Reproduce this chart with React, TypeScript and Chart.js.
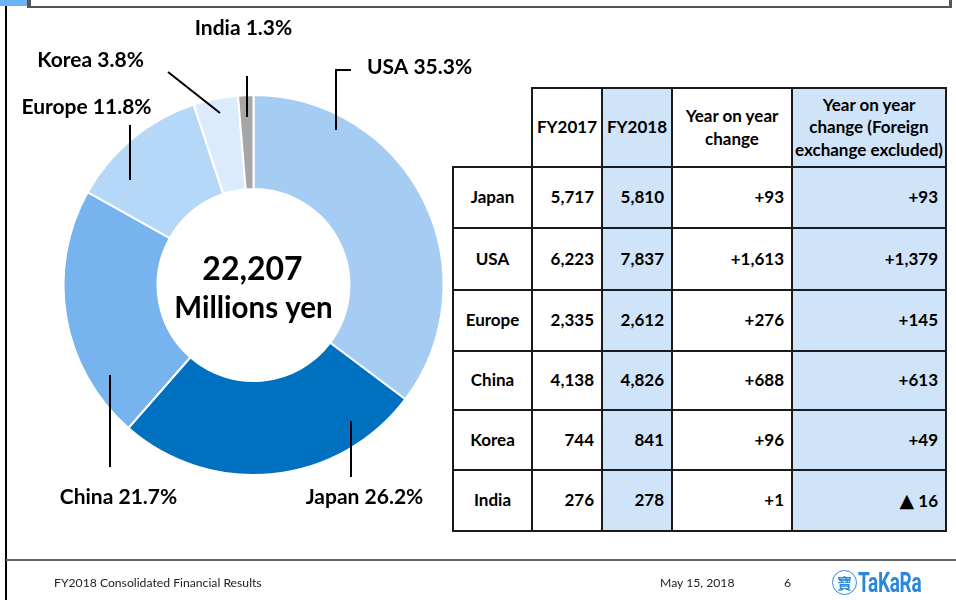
import React, { useEffect, useRef } from 'react';
import { Chart, registerables } from 'chart.js';

Chart.register(...registerables);

// ---------- data ----------
const sliceNames = ['USA', 'Japan', 'China', 'Europe', 'Korea', 'India'];
const sliceShares = [35.3, 26.2, 21.7, 11.8, 3.8, 1.3];
const sliceColors = ['#A5CDF3', '#0070C0', '#77B3EE', '#B6D8F8', '#DBEBFB', '#A6A6A6'];
const totalLabel = '22,207';
const totalUnit = 'Millions yen';

const tableHeaders = ['', 'FY2017', 'FY2018', 'Year on year\nchange', 'Year on year\nchange (Foreign\nexchange excluded)'];
const tableRegions = ['Japan', 'USA', 'Europe', 'China', 'Korea', 'India'];
const fy2017 = ['5,717', '6,223', '2,335', '4,138', '744', '276'];
const fy2018 = ['5,810', '7,837', '2,612', '4,826', '841', '278'];
const yoyChange = ['+93', '+1,613', '+276', '+688', '+96', '+1'];
const yoyChangeFx = ['+93', '+1,379', '+145', '+613', '+49', '▲ 16'];

const footerTitle = 'FY2018 Consolidated Financial Results';
const footerDate = 'May 15, 2018';
const footerPage = '6';

// ---------- layout (offsets relative to doughnut centre) ----------
const labelLayout = [
  { dx: 166, dy: -218, line: [[82.5, -155], [82.5, -215], [97.5, -215]] }, // USA
  { dx: 111, dy: 212, line: [[97.5, 136], [97.5, 192]] }, // Japan
  { dx: -135, dy: 212, line: [[-143.5, 90], [-143.5, 182]] }, // China
  { dx: -167, dy: -178, line: [[-123.5, -160], [-123.5, -105]] }, // Europe
  { dx: -163, dy: -225, line: [[-85.5, -213], [-33.5, -172]] }, // Korea
  { dx: -10, dy: -257, line: [[-6.5, -209], [-6.5, -168]] }, // India
];

const colEdges = [453, 532, 602, 672, 792, 946];
const rowEdges = [88, 167, 228, 290, 351, 410, 470, 531];
const shadedCols = [2, 4];
const shade = '#CFE4F8';
const FONT = 'Lato, "Open Sans", sans-serif';

const labelPlugin = {
  id: 'sliceLabels',
  afterDraw(chart: any) {
    const meta = chart.getDatasetMeta(0);
    const a0 = meta.data[0];
    if (!a0) return;
    const cx = a0.x;
    const cy = a0.y;
    const ctx = chart.ctx;
    ctx.save();
    ctx.fillStyle = '#000';
    ctx.textAlign = 'center';
    ctx.textBaseline = 'alphabetic';
    ctx.font = `bold 32px ${FONT}`;
    ctx.fillText(totalLabel, cx - 1, cy - 5);
    ctx.font = `bold 29.5px ${FONT}`;
    ctx.fillText(totalUnit, cx, cy + 33);

    ctx.lineWidth = 2;
    ctx.strokeStyle = '#000';
    ctx.textBaseline = 'middle';
    ctx.font = `bold 21px ${FONT}`;
    sliceNames.forEach((name, i) => {
      const L = labelLayout[i];
      ctx.beginPath();
      L.line.forEach(([dx, dy], j) => {
        if (j === 0) ctx.moveTo(cx + dx, cy + dy);
        else ctx.lineTo(cx + dx, cy + dy);
      });
      ctx.stroke();
      ctx.fillText(`${name} ${sliceShares[i].toFixed(1)}%`, cx + L.dx, cy + L.dy);
    });
    ctx.restore();
  },
};

function renderCellText(text: string) {
  if (text.startsWith('▲')) {
    return (
      <span>
        <span style={{ fontFamily: '"DejaVu Sans"', fontSize: 19 }}>▲</span>
        {text.slice(1)}
      </span>
    );
  }
  return text;
}

function Table() {
  const cells: any[] = [];
  const lines: any[] = [];
  const columns = [tableRegions, fy2017, fy2018, yoyChange, yoyChangeFx];
  for (let r = 0; r < rowEdges.length - 1; r++) {
    for (let c = 0; c < colEdges.length - 1; c++) {
      const x0 = colEdges[c];
      const x1 = colEdges[c + 1];
      const y0 = rowEdges[r];
      const y1 = rowEdges[r + 1];
      const isHeader = r === 0;
      const text = isHeader ? tableHeaders[c] : columns[c][r - 1];
      const right = !isHeader && c > 0;
      cells.push(
        <div
          key={`c${r}-${c}`}
          style={{
            position: 'absolute',
            left: x0,
            top: y0,
            width: x1 - x0,
            height: y1 - y0,
            background: shadedCols.includes(c) ? shade : '#fff',
            display: 'flex',
            alignItems: 'center',
            justifyContent: right ? 'flex-end' : 'center',
            textAlign: 'center',
            paddingRight: right ? 8 : 0,
            boxSizing: 'border-box',
            whiteSpace: 'pre',
            fontFamily: FONT,
            fontWeight: 700,
            fontSize: 17,
            lineHeight: '22.5px',
            color: '#000',
          }}
        >
          {renderCellText(text)}
        </div>
      );
    }
  }
  const lc = '#1a1a1a';
  colEdges.forEach((x, i) => {
    const top = i === 0 ? rowEdges[1] : rowEdges[0];
    lines.push(
      <div key={`v${i}`} style={{ position: 'absolute', left: x - 1, top: top - 1, width: 2, height: rowEdges[rowEdges.length - 1] - top + 2, background: lc }} />
    );
  });
  rowEdges.forEach((y, i) => {
    const left = i === 0 ? colEdges[1] : colEdges[0];
    lines.push(
      <div key={`h${i}`} style={{ position: 'absolute', left: left - 1, top: y - 1, width: colEdges[colEdges.length - 1] - left + 2, height: 2, background: lc }} />
    );
  });
  return (
    <>
      {cells}
      {lines}
    </>
  );
}

export default function App() {
  const canvasRef = useRef<HTMLCanvasElement | null>(null);

  useEffect(() => {
    const canvas = canvasRef.current;
    if (!canvas) return;
    const chart = new Chart(canvas, {
      type: 'doughnut',
      data: {
        labels: sliceNames,
        datasets: [
          {
            data: sliceShares,
            backgroundColor: sliceColors,
            borderColor: '#ffffff',
            borderWidth: 2,
          },
        ],
      },
      options: {
        responsive: false,
        animation: false,
        cutout: '50.5%',
        layout: { padding: { left: 62, right: 511, top: 94, bottom: 124 } },
        plugins: { legend: { display: false }, tooltip: { enabled: false } },
      },
      plugins: [labelPlugin],
    });
    return () => chart.destroy();
  }, []);

  return (
    <div style={{ position: 'absolute', left: 0, top: 0, width: 956, height: 600, overflow: 'hidden', background: '#fff' }}>
      <canvas ref={canvasRef} width={956} height={600} style={{ position: 'absolute', left: 0, top: 0 }} />
      {/* header strip */}
      <div style={{ position: 'absolute', left: 0, top: 0, width: 27, height: 6, background: '#6AB4F5' }} />
      <div style={{ position: 'absolute', left: 27, top: 0, width: 4, height: 8, background: '#555' }} />
      <div style={{ position: 'absolute', left: 27, top: 6, width: 925, height: 2, background: '#555' }} />
      <div style={{ position: 'absolute', left: 949, top: 0, width: 3, height: 8, background: '#555' }} />
      <div style={{ position: 'absolute', left: 5, top: 6, width: 2, height: 594, background: '#000' }} />
      <Table />
      {/* footer */}
      <div style={{ position: 'absolute', left: 6, top: 559, width: 950, height: 2, background: '#666' }} />
      <div style={{ position: 'absolute', left: 54, top: 575, fontFamily: FONT, fontSize: 12.2, color: '#222', whiteSpace: 'nowrap' }}>{footerTitle}</div>
      <div style={{ position: 'absolute', left: 660, top: 575, fontFamily: FONT, fontSize: 12.2, color: '#222', whiteSpace: 'nowrap' }}>{footerDate}</div>
      <div style={{ position: 'absolute', left: 784, top: 575, fontFamily: FONT, fontSize: 12.2, color: '#222' }}>{footerPage}</div>
      <div style={{ position: 'absolute', left: 832, top: 570, width: 25, height: 25, borderRadius: '50%', border: '1.5px solid #2E8BE0', boxSizing: 'border-box', display: 'flex', alignItems: 'center', justifyContent: 'center', fontFamily: '"Noto Sans CJK JP"', fontSize: 15, fontWeight: 700, color: '#2E8BE0', lineHeight: 1 }}>寶</div>
      <div style={{ position: 'absolute', left: 858, top: 567, fontFamily: 'Roboto, sans-serif', fontWeight: 700, fontSize: 28, color: '#2A87DD', transform: 'scaleX(0.68)', transformOrigin: 'left center', lineHeight: '32px', whiteSpace: 'nowrap', letterSpacing: -0.5 }}>TaKaRa</div>
    </div>
  );
}
